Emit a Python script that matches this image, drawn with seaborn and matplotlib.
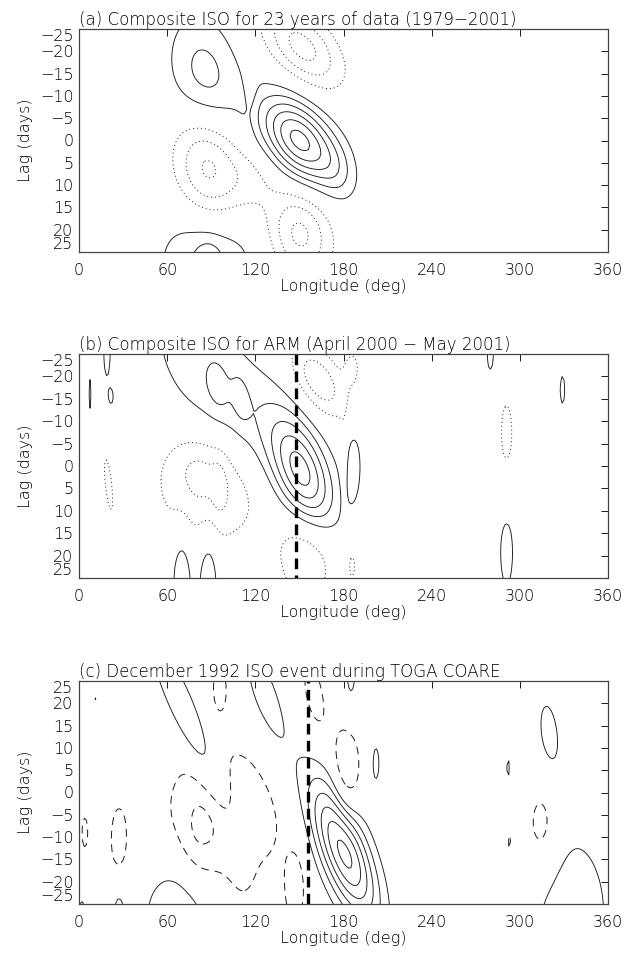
import numpy as np
import matplotlib
matplotlib.use("Agg")
import matplotlib.pyplot as plt
import seaborn as sns
import pandas as pd

# ---------------------------------------------------------------
# Anomaly features of each lag-longitude composite, described as
# centre longitude (deg E), centre lag (days), peak value (contour
# units), half-width in longitude and lag, and eastward tilt
# (deg of longitude per day of lag).
# ---------------------------------------------------------------

# (a) Composite ISO, 23 years of data
a_lon  = [150, 176, 86, 152, 88, 150, 88, 88, 118, 117]
a_lag  = [0, 7, -14, -21, 6, 21, 28, 26, 9, -14]
a_amp  = [6.4, 1.0, 2.5, -3.4, -3.6, -3.3, 2.3, 0.8, -1.0, -0.9]
a_wlon = [16, 9, 17, 16, 16, 15, 24, 6, 12, 3]
a_wlag = [6.7, 5, 10, 6.4, 9, 7, 10, 3, 5, 7]
a_tilt = [1.3, 0.5, 0.4, 1.5, 0.3, 0.3, 0.0, 0.0, 0.0, 0.0]

# (b) Composite ISO for ARM, April 2000 - May 2001
b_lon  = [152, 102, 94, 110, 187, 92, 96, 163, 186, 156, 186,
          291, 291, 280, 307, 329, 7.5, 19, 22, 20, 70, 88, 180, 80]
b_lag  = [2, -15, -18, -15, -1, 5, 4, -19, -22, 19, 22,
          -7, 19, -25, -20.5, -17, -16, -25, -15.3, 4, 25, 25, -2, -1]
b_amp  = [5.0, 1.9, 0.8, 0.8, 1.4, -2.1, -0.6, -2.8, -1.3, -2.2, -1.2,
          -1.3, 1.4, 1.3, 1.1, 1.2, 1.15, 1.3, 1.1, -1.2, 1.95, 1.95, -0.6, -0.8]
b_wlon = [13, 28, 5, 4, 4.5, 28, 4, 12, 4, 15, 3,
          5, 5, 3, 1.2, 2.5, 1.5, 2.5, 2, 3, 5, 5, 2, 14]
b_wlag = [9, 16, 4, 4, 7, 9, 6, 6, 3, 8, 4,
          9, 9, 5, 2.5, 5, 6, 6, 2, 8, 8, 8, 9, 5]
b_tilt = [0.9, 1.8, 0.3, 0.3, 0.0, 0.0, 0.0, 1.2, 0.0, 0.0, 0.0,
          0.0, 0.0, 0.0, 0.0, 0.0, 0.0, 0.0, 0.0, 0.3, 0.0, 0.0, 0.0, 0.0]

# (c) December 1992 ISO event during TOGA COARE
c_lon  = [180, 76, 128, 202, 185, 320, 292, 335, 349, 68, 27, 2, 28, 45.5,
          98, 80, 112, 27, 4, 182, 160, 96, 147, 315, 293, 342.5, 11]
c_lag  = [-13, 15, 20, 6.5, 26, 13, 5.5, -27, -27, -27, -26, -26, 6.2, 6.8,
          -6, -12, -12, -11, -9, 5, 22, 24, -22, -8, -11, 3, 21]
c_amp  = [6.5, 2.2, 1.5, 1.3, 1.3, 1.5, 1.15, 1.8, 0.5, 2.3, 1.3, 1.2, 1.15, 1.15,
          -2.0, -0.9, -0.8, -1.5, -1.2, -2.2, -1.5, -1.3, -1.6, -1.6, -1.15, -1.15, -1.05]
c_wlon = [12, 8, 10, 3, 4, 6, 1.5, 20, 3, 18, 4, 2, 2, 2,
          32, 9, 6, 5, 3, 7, 6, 5, 5, 9, 1.5, 1.2, 1.5]
c_wlag = [11, 15, 12, 5, 7, 7, 4, 14, 3, 10, 5, 3, 3.5, 2.5,
          13, 8, 7, 7, 5, 8, 7, 5, 6, 8, 4, 4, 1.5]
c_tilt = [-1.0, -1.3, -0.9, 0.0, 0.0, -0.3, 0.0, 0.0, 0.0, 0.0, 0.0, 0.0, 0.0, 0.0,
          0.0, 0.0, 0.0, 0.0, 0.0, 0.0, -0.5, 0.0, 0.0, 0.0, 0.0, 0.0, 0.0]

# Longitude of the observing sites marked in (b) and (c)
site_lon = {"b": 147.4, "c": 156.0}

titles = {
    "a": "(a) Composite ISO for 23 years of data (1979\u22122001)",
    "b": "(b) Composite ISO for ARM (April 2000 \u2212 May 2001)",
    "c": "(c) December 1992 ISO event during TOGA COARE",
}
x_ticks = [0, 60, 120, 180, 240, 300, 360]
y_ticks = [-25, -20, -15, -10, -5, 0, 5, 10, 15, 20, 25]

pos_levels = [1, 2, 3, 4, 5, 6]
neg_levels = [-4, -3, -2, -1]

# Analysis grid
grid_lon = np.arange(0, 360.1, 1.25)
grid_lag = np.arange(-25, 25.1, 1.0)
LON, LAG = np.meshgrid(grid_lon, grid_lag)


def build_field(lon0, lag0, amp, wlon, wlag, tilt):
    z = np.zeros_like(LON)
    for x0, t0, a, sx, st, k in zip(lon0, lag0, amp, wlon, wlag, tilt):
        xc = x0 + k * (LAG - t0)
        z += a * np.exp(-0.5 * ((LON - xc) / sx) ** 2 - 0.5 * ((LAG - t0) / st) ** 2)
    return z


fields = {
    "a": build_field(a_lon, a_lag, a_amp, a_wlon, a_wlag, a_tilt),
    "b": build_field(b_lon, b_lag, b_amp, b_wlon, b_wlag, b_tilt),
    "c": build_field(c_lon, c_lag, c_amp, c_wlon, c_wlag, c_tilt),
}

sns.set_theme(style="white")
plt.rcParams["font.family"] = ["DejaVu Sans"]
plt.rcParams["font.weight"] = "light"
plt.rcParams["axes.titleweight"] = "light"
plt.rcParams["axes.labelweight"] = "light"
plt.rcParams["axes.unicode_minus"] = True

ink = "#1a1a1a"
text_ink = "#000000"
W, H = 629, 958
fig = plt.figure(figsize=(W / 100, H / 100), dpi=100)

boxes = {"a": (29, 252), "b": (354, 578), "c": (681, 904)}
left_px, right_px = 79, 608

dotted = (0, (1.0, 3.0))
dashed = (0, (8.0, 6.0))
fs_tick, fs_label, fs_title = 11.5, 11.5, 12

for key in ["a", "b", "c"]:
    top_px, bot_px = boxes[key]
    ax = fig.add_axes([left_px / W, 1 - bot_px / H,
                       (right_px - left_px) / W, (bot_px - top_px) / H])
    z = fields[key]
    neg_style = dashed if key == "c" else dotted
    ax.contour(LON, LAG, z, levels=pos_levels, colors=ink,
               linewidths=0.65, linestyles="solid")
    ax.contour(LON, LAG, z, levels=neg_levels, colors=ink,
               linewidths=0.7, linestyles=[neg_style])

    if key in site_lon:
        site = pd.DataFrame({"lon": [site_lon[key]] * 2, "lag": [-25, 25]})
        sns.lineplot(data=site, x="lon", y="lag", orient="y", ax=ax,
                     color="black", linewidth=2.4, dashes=False,
                     linestyle=(0, (3.2, 1.9)), legend=False)

    ax.set_xlim(0, 360)
    if key == "c":
        ax.set_ylim(-25, 25)
    else:
        ax.set_ylim(25, -25)
    ax.set_xticks(x_ticks)
    ax.set_yticks(y_ticks)
    ax.set_xticklabels([str(v) for v in x_ticks])
    ax.set_yticklabels([f"{v}".replace("-", "\u2212") for v in y_ticks])
    ax.tick_params(direction="in", length=5, width=0.7, colors=ink,
                   labelcolor=text_ink, labelsize=fs_tick, top=True, right=True,
                   labeltop=False, labelright=False)
    ax.tick_params(axis="x", pad=8)
    ax.tick_params(axis="y", pad=4)
    # keep the end labels inside the frame
    ylabels = ax.get_yticklabels()
    if key == "c":
        ylabels[0].set_va("bottom")
        ylabels[-1].set_va("top")
    else:
        ylabels[0].set_va("top")
        ylabels[-1].set_va("bottom")
    for s in ax.spines.values():
        s.set_color("#444444")
        s.set_linewidth(0.9)
    ax.set_xlabel("Longitude (deg)", fontsize=fs_label, color=text_ink, labelpad=1)
    ax.set_ylabel("Lag (days)", fontsize=fs_label, color=text_ink, labelpad=5)
    ax.set_title(titles[key], loc="left", fontsize=fs_title, color=text_ink, pad=3)
    ax.set_facecolor("white")

fig.savefig("out.png", dpi=100, facecolor="white")
